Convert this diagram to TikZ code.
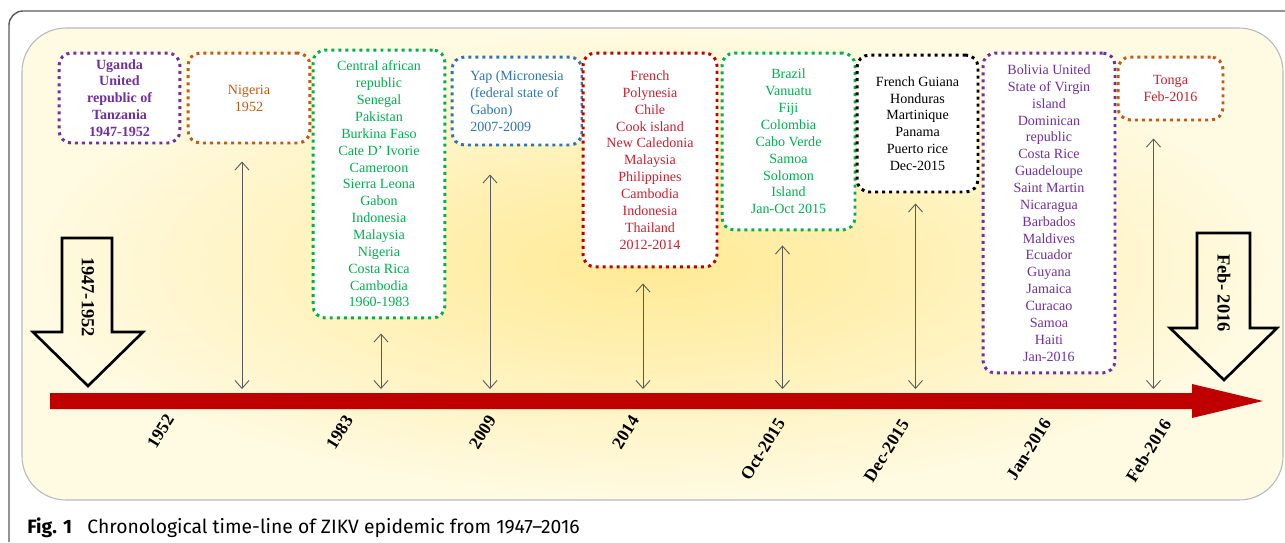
\documentclass[tikz,border=0pt]{standalone}
\usepackage{fontspec}
\setmainfont{Liberation Serif}
\newfontfamily\capfont{Fira Sans}
\usetikzlibrary{arrows.meta}
\definecolor{zpurple}{RGB}{112,48,160}
\definecolor{zorange}{RGB}{197,90,17}
\definecolor{zgreen}{RGB}{0,176,80}
\definecolor{zblue}{RGB}{46,117,182}
\definecolor{zred}{RGB}{192,0,0}
\definecolor{ztext}{RGB}{204,32,48}
\definecolor{panelin}{RGB}{255,234,148}
\definecolor{panelout}{RGB}{255,250,226}
\tikzset{
  country/.style={draw=#1, fill=white, line width=1.7pt, dash pattern=on 1.7pt off 2.3pt,
    rounded corners=7pt, align=center, inner sep=1pt, font=\fontsize{8}{9.6}\selectfont},
  pointer/.style={{Straight Barb[length=4.5pt,width=8pt]}-{Straight Barb[length=4.5pt,width=8pt]},
    black!65, line width=0.5pt},
  datelabel/.style={anchor=east, rotate=58, inner sep=0pt, font=\bfseries\fontsize{10}{12}\selectfont},
  hollow/.style={draw, line width=1.5pt, line join=miter},
}
\begin{document}
\begin{tikzpicture}[x=0.02cm, y=-0.02cm]
\useasboundingbox (0,0) rectangle (1285,542);
\draw[gray!70!black, line width=0.8pt, rounded corners=8pt] (9,542) -- (9,11) -- (1285,11);
\shade[draw=gray!55, line width=0.6pt, rounded corners=25pt, inner color=panelin, outer color=panelout]
    (22,28) rectangle (1283,500);
\fill[zred] (50,393) -- (1192,393) -- (1192,384) -- (1263,401) -- (1192,418) -- (1192,409) -- (50,409) -- cycle;
\coordinate (axis) at (0,389);

\node[country=zpurple, text=zpurple, font=\bfseries\fontsize{8}{9.6}\selectfont,
    minimum width=2.42cm, minimum height=1.8cm] (b1) at (119.5,98)
    {Uganda\\United\\republic of\\Tanzania\\1947-1952};
\node[country=zorange, text=zorange, minimum width=2.44cm, minimum height=1.8cm] (b2) at (249,98)
    {Nigeria\\1952};
\node[country=zgreen, text=zgreen, minimum width=2.64cm, minimum height=5.36cm] (b3) at (379,184)
    {Central african\\republic\\Senegal\\Pakistan\\Burkina Faso\\Cate D’ Ivorie\\Cameroon\\Sierra Leona\\Gabon\\Indonesia\\Malaysia\\Nigeria\\Costa Rica\\Cambodia\\1960-1983};
\node[country=zblue, text=zblue, align=left, minimum width=2.6cm, minimum height=1.76cm] (b4) at (517,101)
    {Yap (Micronesia\\(federal state of\\Gabon)\\2007-2009};
\node[country=zred, text=ztext, minimum width=2.68cm, minimum height=4.28cm] (b5) at (650,160)
    {French\\Polynesia\\Chile\\Cook island\\New Caledonia\\Malaysia\\Philippines\\Cambodia\\Indonesia\\Thailand\\2012-2014};
\node[country=zgreen, text=zgreen, minimum width=2.66cm, minimum height=3.54cm] (b6) at (788.5,141.5)
    {Brazil\\Vanuatu\\Fiji\\Colombia\\Cabo Verde\\Samoa\\Solomon\\Island\\Jan-Oct 2015};
\node[country=black, text=black, minimum width=2.42cm, minimum height=2.74cm] (b7) at (917.5,123.5)
    {French Guiana\\Honduras\\Martinique\\Panama\\Puerto rice\\Dec-2015};
\node[country=zpurple, text=zpurple, minimum width=2.64cm, minimum height=6.4cm] (b8) at (1049,213)
    {Bolivia United\\State of Virgin\\island\\Dominican\\republic\\Costa Rice\\Guadeloupe\\Saint Martin\\Nicaragua\\Barbados\\Maldives\\Ecuador\\Guyana\\Jamaica\\Curacao\\Samoa\\Haiti\\Jan-2016};
\node[country=zorange, text=ztext, minimum width=2.1cm, minimum height=1.26cm] (b9) at (1170.5,88.5)
    {Tonga\\Feb-2016};

\foreach \b/\dx/\gap in {b2/-7/17, b3/2/14, b4/-27/28, b5/-7/15, b6/-6/14, b7/-2/10, b9/-17/17}
    \draw[pointer] ([shift={(\dx,\gap)}]\b.south) -- ([xshift=\dx*0.02cm]\b.south |- axis);

\draw[hollow] (62,238) -- (112,238) -- (112,332) -- (143,332) -- (88,386) -- (33,332) -- (62,332) -- cycle;
\node[rotate=-90, font=\bfseries\fontsize{10.5}{12}\selectfont] (start) at (88,297) {1947-1952};
\draw[hollow] (1197,233) -- (1250,233) -- (1250,328) -- (1277,328) -- (1224,380) -- (1170,328) -- (1197,328) -- cycle;
\node[rotate=-90, font=\bfseries\fontsize{10.5}{12}\selectfont] (end) at (1224,293) {Feb- 2016};

\foreach \x/\y/\t in {170/416/1952, 349/417/1983, 492/417/2009, 635/417/2014,
    781/420/Oct-2015, 905/421/Dec-2015, 1047/420/Jan-2016, 1167/421/Feb-2016}
    \node[datelabel] (d\t) at (\x,\y) {\t};

\node[anchor=base west, inner sep=0pt, font=\capfont\fontsize{11}{13}\selectfont] (caption) at (27,533)
    {\textbf{Fig. 1}\hspace{0.8em}Chronological time-line of ZIKV epidemic from 1947–2016};
\end{tikzpicture}
\end{document}
